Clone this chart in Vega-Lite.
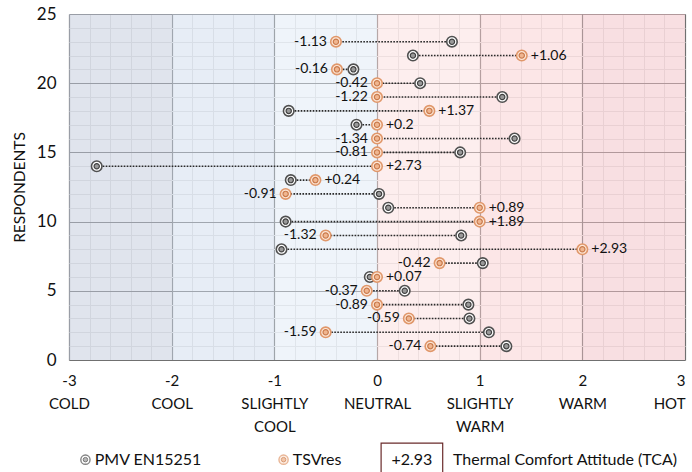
{
  "$schema": "https://vega.github.io/schema/vega-lite/v6.json",
  "width": 616,
  "height": 346,
  "autosize": {"type": "none"},
  "padding": {"left": 69, "top": 14, "right": 7, "bottom": 112},
  "background": "white",
  "config": {"view": {"stroke": null}, "font": "Lato"},
  "resolve": {"axis": {"x": "independent", "y": "independent"}},
  "datasets": {
    "bands": [
      {"lo": -3, "hi": -2, "zone": "COLD"},
      {"lo": -2, "hi": -1, "zone": "COOL"},
      {"lo": -1, "hi": 0, "zone": "SLIGHTLY COOL"},
      {"lo": 0, "hi": 1, "zone": "NEUTRAL"},
      {"lo": 1, "hi": 2, "zone": "SLIGHTLY WARM"},
      {"lo": 2, "hi": 3, "zone": "WARM"}
    ],
    "resp": [
      {"r": 23, "pmv": 0.73, "tsv": -0.40, "tca": "-1.13"},
      {"r": 22, "pmv": 0.35, "tsv": 1.41, "tca": "+1.06"},
      {"r": 21, "pmv": -0.23, "tsv": -0.39, "tca": "-0.16"},
      {"r": 20, "pmv": 0.42, "tsv": 0.0, "tca": "-0.42"},
      {"r": 19, "pmv": 1.22, "tsv": 0.0, "tca": "-1.22"},
      {"r": 18, "pmv": -0.86, "tsv": 0.51, "tca": "+1.37"},
      {"r": 17, "pmv": -0.2, "tsv": 0.0, "tca": "+0.2"},
      {"r": 16, "pmv": 1.34, "tsv": 0.0, "tca": "-1.34"},
      {"r": 15, "pmv": 0.81, "tsv": 0.0, "tca": "-0.81"},
      {"r": 14, "pmv": -2.73, "tsv": 0.0, "tca": "+2.73"},
      {"r": 13, "pmv": -0.84, "tsv": -0.60, "tca": "+0.24"},
      {"r": 12, "pmv": 0.02, "tsv": -0.89, "tca": "-0.91"},
      {"r": 11, "pmv": 0.11, "tsv": 1.0, "tca": "+0.89"},
      {"r": 10, "pmv": -0.89, "tsv": 1.0, "tca": "+1.89"},
      {"r": 9, "pmv": 0.82, "tsv": -0.50, "tca": "-1.32"},
      {"r": 8, "pmv": -0.93, "tsv": 2.0, "tca": "+2.93"},
      {"r": 7, "pmv": 1.03, "tsv": 0.61, "tca": "-0.42"},
      {"r": 6, "pmv": -0.07, "tsv": 0.0, "tca": "+0.07"},
      {"r": 5, "pmv": 0.27, "tsv": -0.10, "tca": "-0.37"},
      {"r": 4, "pmv": 0.89, "tsv": 0.0, "tca": "-0.89"},
      {"r": 3, "pmv": 0.90, "tsv": 0.31, "tca": "-0.59"},
      {"r": 2, "pmv": 1.09, "tsv": -0.50, "tca": "-1.59"},
      {"r": 1, "pmv": 1.26, "tsv": 0.52, "tca": "-0.74"}
    ]
  },
  "layer": [
    {
      "data": {"name": "bands"},
      "mark": {"type": "rect", "opacity": 0.5},
      "encoding": {
        "x": {
          "field": "lo", "type": "quantitative",
          "scale": {"domain": [-3, 3], "nice": false, "zero": false},
          "axis": {
            "orient": "bottom",
            "values": [-2.8, -2.6, -2.4, -2.2, -1.8, -1.6, -1.4, -1.2, -0.8, -0.6, -0.4, -0.2, 0.2, 0.4, 0.6, 0.8, 1.2, 1.4, 1.6, 1.8, 2.2, 2.4, 2.6, 2.8],
            "title": null, "domain": false, "ticks": false, "labels": false,
            "grid": true, "gridColor": "#e0e0e0", "gridWidth": 1
          }
        },
        "x2": {"field": "hi"},
        "y": {"datum": 0, "type": "quantitative",
          "scale": {"domain": [0, 25], "nice": false, "zero": false},
          "axis": {
            "orient": "left",
            "values": [1,2,3,4,6,7,8,9,11,12,13,14,16,17,18,19,21,22,23,24],
            "title": null, "domain": false, "ticks": false, "labels": false,
            "grid": true, "gridColor": "#e0e0e0", "gridWidth": 1
          }
        },
        "y2": {"datum": 25},
        "color": {
          "field": "zone", "type": "nominal", "legend": null,
          "scale": {
            "domain": ["COLD", "COOL", "SLIGHTLY COOL", "NEUTRAL", "SLIGHTLY WARM", "WARM"],
            "range": ["#c1c9db", "#cfdbed", "#dfe9f5", "#fbdddd", "#f9cdcf", "#f1bfc5"]
          }
        }
      }
    },
    {
      "data": {"name": "resp"},
      "layer": [
        {
          "mark": {"type": "rule", "strokeDash": [1.6, 1.4], "strokeWidth": 1.6, "color": "#2a2a2a"},
          "encoding": {
            "x": {"field": "pmv", "type": "quantitative",
              "scale": {"domain": [-3, 3], "nice": false, "zero": false},
              "axis": {
                "orient": "bottom",
                "values": [-3, -2, -1, 0, 1, 2, 3],
                "title": null, "domain": false, "ticks": false,
                "grid": true, "gridColor": "#707070", "gridWidth": 1.2,
                "labelExpr": "datum.value == -3 ? ['-3','COLD'] : datum.value == -2 ? ['-2','COOL'] : datum.value == -1 ? ['-1','SLIGHTLY','COOL'] : datum.value == 0 ? ['0','NEUTRAL'] : datum.value == 1 ? ['1','SLIGHTLY','WARM'] : datum.value == 2 ? ['2','WARM'] : ['3','HOT']",
                "labelFont": "Lato", "labelFontSize": 15, "labelColor": "#111",
                "labelLineHeight": 23, "labelPadding": 13, "labelBaseline": "top",
                "labelAlign": {"condition": {"test": "datum.value == 3", "value": "right"}, "value": "center"},
                "labelOverlap": false, "labelBound": false, "labelFlush": false
              }
            },
            "x2": {"field": "tsv"},
            "y": {"field": "r", "type": "quantitative",
              "scale": {"domain": [0, 25], "nice": false, "zero": false},
              "axis": {
                "orient": "left",
                "values": [0, 5, 10, 15, 20, 25],
                "title": "RESPONDENTS",
                "titleFont": "Lato", "titleFontSize": 15.5, "titleFontWeight": "normal", "titleColor": "#111", "titlePadding": 9,
                "domain": false, "ticks": false,
                "grid": true, "gridColor": "#707070", "gridWidth": 1.2,
                "labelFont": "Lato", "labelFontSize": 17, "labelColor": "#111", "labelPadding": 13,
                "labelOverlap": false
              }
            }
          }
        },
        {
          "mark": {"type": "point", "shape": "circle", "filled": true, "size": 110, "fill": "#ffffff", "stroke": "#505050", "strokeWidth": 1.6, "opacity": 1},
          "encoding": {
            "x": {"field": "pmv", "type": "quantitative"},
            "y": {"field": "r", "type": "quantitative"}
          }
        },
        {
          "mark": {"type": "point", "shape": "circle", "filled": true, "size": 28, "fill": "#9a9a9a", "stroke": "#404040", "strokeWidth": 1.2, "opacity": 1},
          "encoding": {
            "x": {"field": "pmv", "type": "quantitative"},
            "y": {"field": "r", "type": "quantitative"}
          }
        },
        {
          "mark": {"type": "point", "shape": "circle", "filled": true, "size": 110, "fill": "#fde6d6", "stroke": "#e0976a", "strokeWidth": 1.6, "opacity": 1},
          "encoding": {
            "x": {"field": "tsv", "type": "quantitative"},
            "y": {"field": "r", "type": "quantitative"}
          }
        },
        {
          "mark": {"type": "point", "shape": "circle", "filled": true, "size": 28, "fill": "#f0b690", "stroke": "#c97a4c", "strokeWidth": 1.2, "opacity": 1},
          "encoding": {
            "x": {"field": "tsv", "type": "quantitative"},
            "y": {"field": "r", "type": "quantitative"}
          }
        },
        {
          "transform": [{"filter": "datum.tsv > datum.pmv"}],
          "mark": {"type": "text", "align": "left", "baseline": "middle", "dx": 9, "fontSize": 14, "font": "Lato", "color": "#111"},
          "encoding": {
            "x": {"field": "tsv", "type": "quantitative"},
            "y": {"field": "r", "type": "quantitative"},
            "text": {"field": "tca"}
          }
        },
        {
          "transform": [{"filter": "datum.tsv <= datum.pmv"}],
          "mark": {"type": "text", "align": "right", "baseline": "middle", "dx": -9, "fontSize": 14, "font": "Lato", "color": "#111"},
          "encoding": {
            "x": {"field": "tsv", "type": "quantitative"},
            "y": {"field": "r", "type": "quantitative"},
            "text": {"field": "tca"}
          }
        }
      ]
    },
    {
      "data": {"values": [{}]},
      "layer": [
        {
          "mark": {"type": "point", "shape": "circle", "filled": true, "size": 85, "fill": "#ffffff", "stroke": "#505050", "strokeWidth": 1.4},
          "encoding": {
            "x": {"datum": -2.84, "type": "quantitative", "scale": {"domain": [-3, 3], "nice": false, "zero": false}, "axis": null},
            "y": {"datum": -7.2, "type": "quantitative", "scale": {"domain": [0, 25], "nice": false, "zero": false}, "axis": null}
          }
        },
        {
          "mark": {"type": "point", "shape": "circle", "filled": true, "size": 20, "fill": "#9a9a9a", "stroke": "#404040", "strokeWidth": 1},
          "encoding": {"x": {"datum": -2.84, "type": "quantitative", "axis": null}, "y": {"datum": -7.2, "type": "quantitative", "axis": null}}
        },
        {
          "mark": {"type": "text", "text": "PMV EN15251", "align": "left", "baseline": "middle", "fontSize": 16, "font": "Lato", "color": "#111"},
          "encoding": {"x": {"datum": -2.75, "type": "quantitative", "axis": null}, "y": {"datum": -7.2, "type": "quantitative", "axis": null}}
        },
        {
          "mark": {"type": "point", "shape": "circle", "filled": true, "size": 85, "fill": "#fde6d6", "stroke": "#e0976a", "strokeWidth": 1.4},
          "encoding": {"x": {"datum": -0.91, "type": "quantitative", "axis": null}, "y": {"datum": -7.2, "type": "quantitative", "axis": null}}
        },
        {
          "mark": {"type": "point", "shape": "circle", "filled": true, "size": 20, "fill": "#f0b690", "stroke": "#c97a4c", "strokeWidth": 1},
          "encoding": {"x": {"datum": -0.91, "type": "quantitative", "axis": null}, "y": {"datum": -7.2, "type": "quantitative", "axis": null}}
        },
        {
          "mark": {"type": "text", "text": "TSVres", "align": "left", "baseline": "middle", "fontSize": 16, "font": "Lato", "color": "#111"},
          "encoding": {"x": {"datum": -0.82, "type": "quantitative", "axis": null}, "y": {"datum": -7.2, "type": "quantitative", "axis": null}}
        },
        {
          "mark": {"type": "rect", "fill": "white", "stroke": "#6a2b2b", "strokeWidth": 1.2},
          "encoding": {"x": {"datum": 0.04, "type": "quantitative", "axis": null}, "x2": {"datum": 0.64}, "y": {"datum": -6.0, "type": "quantitative", "axis": null}, "y2": {"datum": -8.3}}
        },
        {
          "mark": {"type": "text", "text": "+2.93", "align": "center", "baseline": "middle", "fontSize": 16, "font": "Lato", "color": "#111"},
          "encoding": {"x": {"datum": 0.34, "type": "quantitative", "axis": null}, "y": {"datum": -7.2, "type": "quantitative", "axis": null}}
        },
        {
          "mark": {"type": "text", "text": "Thermal Comfort Attitude (TCA)", "align": "left", "baseline": "middle", "fontSize": 16, "font": "Lato", "color": "#111"},
          "encoding": {"x": {"datum": 0.74, "type": "quantitative", "axis": null}, "y": {"datum": -7.2, "type": "quantitative", "axis": null}}
        }
      ]
    }
  ]
}
